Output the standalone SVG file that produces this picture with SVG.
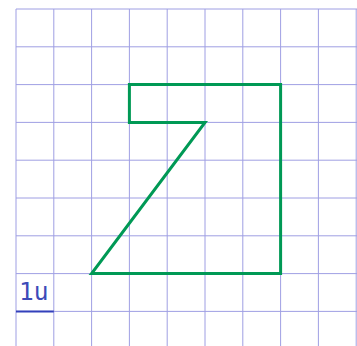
<svg xmlns="http://www.w3.org/2000/svg" width="357" height="346" viewBox="0 0 357 346">
<style>
.grid{stroke:#8888dd;stroke-width:1;opacity:0.8}
.shape{fill:none;stroke:#009955;stroke-width:3;stroke-linejoin:miter}
.lbl{font-family:"DejaVu Sans Mono",monospace;font-size:24.5px;fill:#3d4bb8}
</style>
<rect width="357" height="346" fill="#ffffff"/>
<g id="grid" class="grid">
<path d="M16 9V346M53.8 9V346M91.6 9V346M129.4 9V346M167.2 9V346M205 9V346M242.8 9V346M280.6 9V346M318.4 9V346M356.2 9V346"/>
<path d="M16 9H357M16 46.8H357M16 84.6H357M16 122.4H357M16 160.2H357M16 198H357M16 235.8H357M16 273.6H357M16 311.4H357"/>
</g>
<g id="shape">
<polygon class="shape" points="129.4,84.6 280.6,84.6 280.6,273.6 91.6,273.6 205,122.4 129.4,122.4"/>
</g>
<g id="scale">
<line x1="16" y1="311.4" x2="53.8" y2="311.4" stroke="#3340bb" stroke-width="2"/>
<text class="lbl" x="19" y="299.5">1u</text>
</g>
</svg>
